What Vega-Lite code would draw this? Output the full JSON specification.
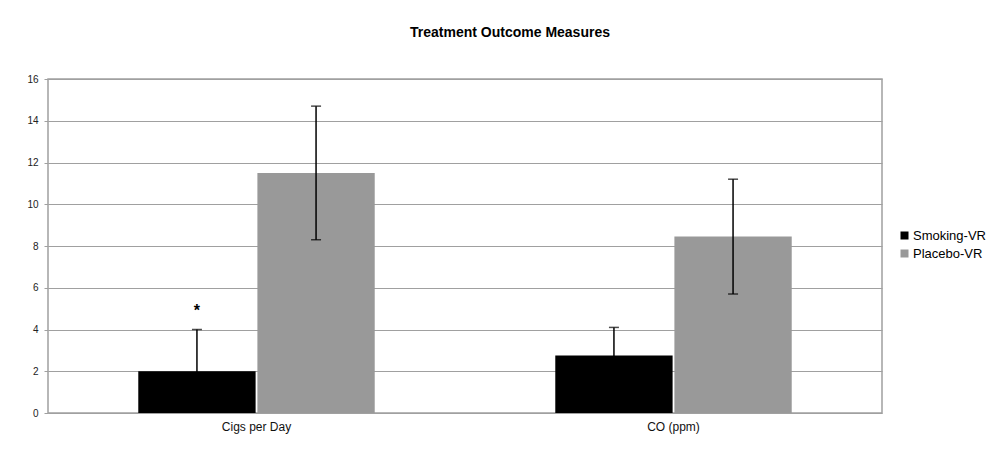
{
  "$schema": "https://vega.github.io/schema/vega-lite/v6.json",
  "autosize": "none",
  "width": 834,
  "height": 334,
  "padding": {"left": 48, "top": 79, "right": 123, "bottom": 43},
  "background": "white",
  "title": {
    "text": "Treatment Outcome Measures",
    "anchor": "middle",
    "dx": 45,
    "offset": 34,
    "font": "Liberation Sans",
    "fontSize": 14,
    "fontWeight": "bold",
    "color": "#000000"
  },
  "data": {
    "values": [
      {"measure": "Cigs per Day", "group": "Smoking-VR", "value": 2.0, "lo": 0.0, "hi": 4.0, "star": 5.1, "mark": "*"},
      {"measure": "Cigs per Day", "group": "Placebo-VR", "value": 11.5, "lo": 8.3, "hi": 14.7, "star": null, "mark": null},
      {"measure": "CO (ppm)", "group": "Smoking-VR", "value": 2.75, "lo": 1.4, "hi": 4.1, "star": null, "mark": null},
      {"measure": "CO (ppm)", "group": "Placebo-VR", "value": 8.45, "lo": 5.7, "hi": 11.2, "star": null, "mark": null}
    ]
  },
  "encoding": {
    "x": {
      "field": "measure",
      "type": "nominal",
      "sort": ["Cigs per Day", "CO (ppm)"],
      "scale": {"paddingInner": 0.433, "paddingOuter": 0.2165},
      "axis": {
        "title": null,
        "labelAngle": 0,
        "labelFont": "Liberation Sans",
        "labelFontSize": 12,
        "labelColor": "#111111",
        "labelPadding": 8,
        "ticks": false,
        "domain": false
      }
    },
    "xOffset": {
      "field": "group",
      "type": "nominal",
      "sort": ["Smoking-VR", "Placebo-VR"],
      "scale": {"paddingInner": 0.015, "paddingOuter": 0}
    }
  },
  "layer": [
    {
      "mark": {"type": "bar"},
      "encoding": {
        "y": {
          "field": "value",
          "type": "quantitative",
          "scale": {"domain": [0, 16], "nice": false},
          "axis": {
            "title": null,
            "values": [0, 2, 4, 6, 8, 10, 12, 14, 16],
            "labelFont": "Liberation Sans",
            "labelFontSize": 10,
            "labelColor": "#222222",
            "labelPadding": 6,
            "grid": true,
            "gridColor": "#a0a0a0",
            "gridWidth": 1.2,
            "domain": false,
            "ticks": true,
            "tickSize": 4,
            "tickColor": "#a0a0a0"
          }
        },
        "color": {
          "field": "group",
          "type": "nominal",
          "sort": ["Smoking-VR", "Placebo-VR"],
          "scale": {"domain": ["Smoking-VR", "Placebo-VR"], "range": ["#000000", "#999999"]},
          "legend": {
            "title": null,
            "orient": "none",
            "legendX": 850,
            "legendY": 150,
            "symbolType": "square",
            "symbolSize": 64,
            "symbolStrokeWidth": 0,
            "labelFont": "Liberation Sans",
            "labelFontSize": 13,
            "labelColor": "#000000",
            "labelOffset": 2,
            "rowPadding": 4
          }
        }
      }
    },
    {
      "mark": {"type": "rule", "color": "#000000", "strokeWidth": 1.5},
      "encoding": {
        "y": {"field": "lo", "type": "quantitative"},
        "y2": {"field": "hi"}
      }
    },
    {
      "mark": {"type": "tick", "color": "#000000", "size": 10, "thickness": 1.5, "orient": "horizontal"},
      "encoding": {
        "y": {"field": "hi", "type": "quantitative"}
      }
    },
    {
      "transform": [{"filter": "datum.group == 'Placebo-VR'"}],
      "mark": {"type": "tick", "color": "#000000", "size": 10, "thickness": 1.5, "orient": "horizontal"},
      "encoding": {
        "y": {"field": "lo", "type": "quantitative"}
      }
    },
    {
      "transform": [{"filter": "datum.star != null"}],
      "mark": {"type": "text", "font": "Liberation Sans", "fontSize": 16, "fontWeight": "bold", "baseline": "middle", "dy": 4, "color": "#000000"},
      "encoding": {
        "y": {"field": "star", "type": "quantitative"},
        "text": {"field": "mark"}
      }
    }
  ],
  "config": {
    "view": {"stroke": "#a0a0a0", "strokeWidth": 1.5},
    "axis": {"labelFont": "Liberation Sans"}
  }
}
